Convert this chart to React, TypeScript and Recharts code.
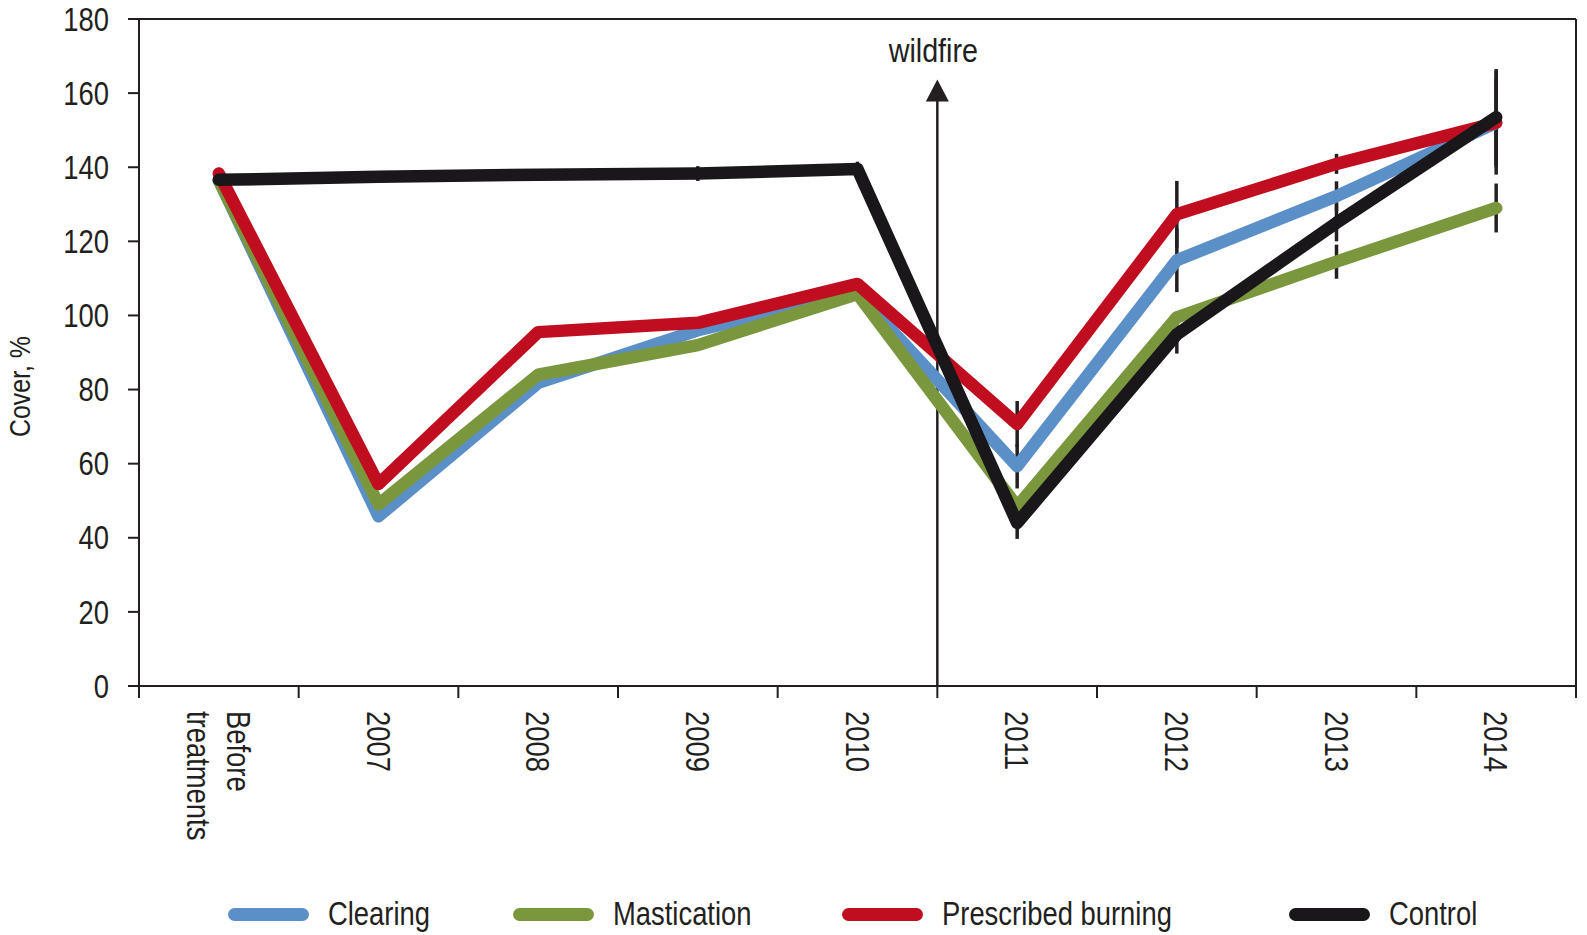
// Plant cover (%) by treatment, before treatments and 2007–2014, with a
// wildfire marker between 2010 and 2011. Recharts line chart with error bars.
import React from 'react'
import {
  ErrorBar,
  Legend,
  Line,
  LineChart,
  ReferenceLine,
  XAxis,
  YAxis,
} from 'recharts'

// ----------------------------------------------------------------------- //
// Data                                                                    //
// ----------------------------------------------------------------------- //

const categories = [
  'Before treatments', '2007', '2008', '2009', '2010', '2011', '2012', '2013', '2014',
]

const clearing    = [136.5, 45.8, 81.8, 96.0, 106.0, 59.3, 114.9, 132.2, 152.0]
const mastication = [136.5, 49.0, 84.0, 92.0, 105.8, 48.4, 99.5, 114.5, 129.0]
const burning     = [138.3, 54.5, 95.5, 98.0, 108.5, 70.7, 127.3, 140.9, 152.0]
const control     = [136.6, 137.4, 138.0, 138.3, 139.5, 44.0, 94.9, 125.0, 153.5]

// error bar half-lengths (0 = no bar)
const clearingErr    = [0, 0, 0, 0, 0, 6.0, 8.6, 4.0, 12.0]
const masticationErr = [0, 0, 0, 0, 0, 0, 0, 4.6, 6.6]
const burningErr     = [0, 0, 0, 0, 0, 6.2, 9.0, 2.7, 14.0]
const controlErr     = [0, 0, 0, 2.0, 2.0, 4.3, 5.2, 5.0, 13.0]

const yTicks = [0, 20, 40, 60, 80, 100, 120, 140, 160, 180]
const wildfireX = 4.5
const wildfireTop = 163.7

const SERIES = [
  { key: 'clearing',    name: 'Clearing',           color: '#5b8fc7' },
  { key: 'mastication', name: 'Mastication',        color: '#7a973e' },
  { key: 'burning',     name: 'Prescribed burning', color: '#c00d1f' },
  { key: 'control',     name: 'Control',            color: '#1a171b' },
]

const rows = categories.map((c, i) => ({
  idx: i,
  label: c,
  clearing: clearing[i],
  mastication: mastication[i],
  burning: burning[i],
  control: control[i],
  clearingErr: clearingErr[i],
  masticationErr: masticationErr[i],
  burningErr: burningErr[i],
  controlErr: controlErr[i],
}))

// ----------------------------------------------------------------------- //
// Styling                                                                 //
// ----------------------------------------------------------------------- //

// No condensed face is installed, so Liberation Sans is squeezed horizontally
// to get close to the Helvetica Condensed look of the original.
const FONT = "'Liberation Sans', Arial, sans-serif"
const SQUEEZE = 0.83
const INK = '#231f20'
const W = 1587
const H = 935

const boundaryTicks = categories.map((_, i) => i - 0.5).concat([categories.length - 0.5])
const centerTicks = categories.map((_, i) => i)

// ----------------------------------------------------------------------- //
// Custom renderers                                                        //
// ----------------------------------------------------------------------- //

function NoLabel() {
  return <g />
}

function CategoryTick(props: any) {
  const { x, y, payload } = props
  const text = categories[payload.value] ?? ''
  const lines = text.split(' ')
  const lineH = 40
  const capH = 23.6
  const y0 = y + 24
  const firstDy = capH / 2 - ((lines.length - 1) * lineH) / 2
  return (
    <text
      transform={`translate(${x}, ${y0}) rotate(90) scale(${SQUEEZE}, 1)`}
      fontFamily={FONT}
      fontSize={33}
      fill={INK}
      textAnchor="start"
    >
      {lines.map((l, i) => (
        <tspan key={l} x={0} dy={i === 0 ? firstDy : lineH}>
          {l}
        </tspan>
      ))}
    </text>
  )
}

function ValueTick(props: any) {
  const { x, y, payload } = props
  return (
    <text
      transform={`translate(${x}, ${y}) scale(${SQUEEZE}, 1)`}
      textAnchor="end"
      dy="0.355em"
      fontFamily={FONT}
      fontSize={33}
      fill={INK}
    >
      {payload.value}
    </text>
  )
}

function WildfireArrow(props: any) {
  const { x1, y1, x2, y2 } = props
  const x = (x1 + x2) / 2
  const top = Math.min(y1, y2)
  const bottom = Math.max(y1, y2)
  const headH = 22
  const headW = 23
  return (
    <g>
      <line x1={x} y1={bottom} x2={x} y2={top + headH - 1} stroke={INK} strokeWidth={2.5} />
      <polygon
        points={`${x},${top} ${x - headW / 2},${top + headH} ${x + headW / 2},${top + headH}`}
        fill={INK}
      />
      <text
        transform={`translate(${x - 4}, ${top - 17}) scale(0.87, 1)`}
        textAnchor="middle"
        fontFamily={FONT}
        fontSize={33}
        fill={INK}
      >
        wildfire
      </text>
    </g>
  )
}

function YLabel(props: any) {
  const { viewBox } = props
  const cx = viewBox.x + 20
  const cy = viewBox.y + viewBox.height / 2 + 34
  return (
    <text
      transform={`translate(${cx}, ${cy}) rotate(-90) scale(${SQUEEZE}, 1)`}
      textAnchor="middle"
      dominantBaseline="central"
      fontFamily={FONT}
      fontSize={30}
      fill={INK}
    >
      Cover, %
    </text>
  )
}

// legend item left edges (px, page coords)
const LEGEND_LEFT = [228, 513, 842, 1289]

function ChartLegend() {
  return (
    <div style={{ position: 'relative', width: W, height: 50 }}>
      {SERIES.map((s, i) => (
        <div
          key={s.key}
          style={{
            position: 'absolute',
            left: LEGEND_LEFT[i],
            top: 0,
            display: 'flex',
            alignItems: 'center',
            height: 50,
            whiteSpace: 'nowrap',
          }}
        >
          <span
            style={{
              display: 'inline-block',
              width: 81,
              height: 13,
              borderRadius: 7,
              background: s.color,
              marginRight: 19,
            }}
          />
          <span
            style={{
              display: 'inline-block',
              fontFamily: FONT,
              fontSize: 33,
              color: INK,
              transform: `scaleX(${SQUEEZE})`,
              transformOrigin: 'left center',
            }}
          >
            {s.name}
          </span>
        </div>
      ))}
    </div>
  )
}

// ----------------------------------------------------------------------- //
// Main                                                                    //
// ----------------------------------------------------------------------- //

export default function App() {
  return (
    <div style={{ position: 'absolute', left: 0, top: 0, width: W, height: H, background: '#fff' }}>
      <LineChart
        width={W}
        height={H}
        data={rows}
        margin={{ top: 18, right: 10, bottom: 247, left: 0 }}
      >
        <XAxis
          xAxisId="b"
          dataKey="idx"
          type="number"
          domain={[-0.5, 8.5]}
          ticks={boundaryTicks}
          tick={<NoLabel />}
          tickSize={12}
          height={1}
          interval={0}
          axisLine={{ stroke: INK, strokeWidth: 2 }}
          tickLine={{ stroke: INK, strokeWidth: 2 }}
        />
        <XAxis
          xAxisId="lab"
          dataKey="idx"
          type="number"
          domain={[-0.5, 8.5]}
          ticks={centerTicks}
          tick={<CategoryTick />}
          tickSize={0}
          tickMargin={0}
          height={1}
          axisLine={false}
          tickLine={false}
          interval={0}
        />
        <XAxis
          xAxisId="top"
          orientation="top"
          dataKey="idx"
          type="number"
          domain={[-0.5, 8.5]}
          tick={false}
          tickLine={false}
          height={1}
          axisLine={{ stroke: INK, strokeWidth: 2 }}
        />
        <YAxis
          type="number"
          domain={[0, 180]}
          ticks={yTicks}
          width={139}
          tickSize={11}
          tickMargin={19}
          interval={0}
          axisLine={{ stroke: INK, strokeWidth: 2 }}
          tickLine={{ stroke: INK, strokeWidth: 2 }}
          tick={<ValueTick />}
          label={<YLabel />}
        />
        <YAxis
          yAxisId="r"
          orientation="right"
          type="number"
          domain={[0, 180]}
          width={1}
          tick={false}
          tickLine={false}
          axisLine={{ stroke: INK, strokeWidth: 2 }}
        />

        <ReferenceLine
          xAxisId="b"
          segment={[{ x: wildfireX, y: 0 }, { x: wildfireX, y: wildfireTop }]}
          shape={<WildfireArrow />}
        />

        {/* error bars first, so every line sits on top of them */}
        {SERIES.map((s) => (
          <Line
            key={`${s.key}-err`}
            xAxisId="b"
            dataKey={s.key}
            stroke="none"
            dot={false}
            activeDot={false}
            legendType="none"
            isAnimationActive={false}
          >
            <ErrorBar
              dataKey={`${s.key}Err`}
              direction="y"
              width={0}
              stroke={INK}
              strokeWidth={3.5}
              isAnimationActive={false}
            />
          </Line>
        ))}

        {SERIES.map((s) => (
          <Line
            key={s.key}
            xAxisId="b"
            dataKey={s.key}
            name={s.name}
            stroke={s.color}
            strokeWidth={12.5}
            strokeLinecap="round"
            strokeLinejoin="round"
            dot={false}
            activeDot={false}
            type="linear"
            isAnimationActive={false}
          />
        ))}

        <Legend
          layout="horizontal"
          verticalAlign="middle"
          align="center"
          content={<ChartLegend />}
          wrapperStyle={{ position: 'absolute', left: 0, top: 889, width: W, height: 50 }}
        />
      </LineChart>
    </div>
  )
}
